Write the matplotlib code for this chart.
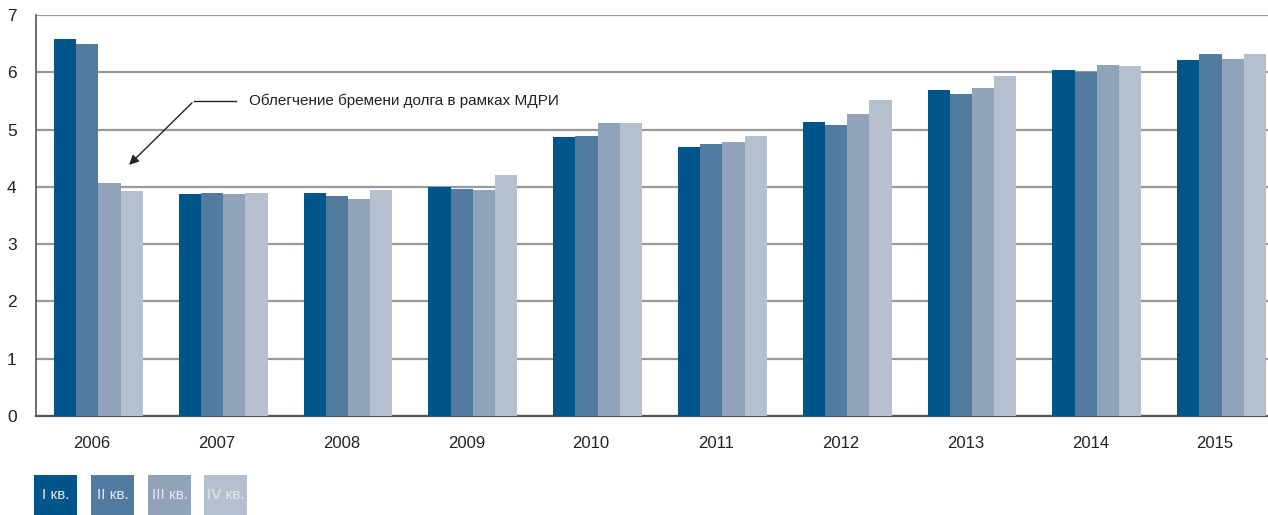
import matplotlib.pyplot as plt
import matplotlib.patches as mpatches
import numpy as np

plt.rcParams['font.family'] = ['Liberation Sans', 'DejaVu Sans']

years = ["2006", "2007", "2008", "2009", "2010", "2011", "2012", "2013", "2014", "2015"]
q1 = [6.58, 3.88, 3.89, 4.00, 4.87, 4.69, 5.13, 5.69, 6.04, 6.21]
q2 = [6.50, 3.90, 3.84, 3.96, 4.89, 4.75, 5.08, 5.62, 6.00, 6.32]
q3 = [4.07, 3.88, 3.79, 3.94, 5.11, 4.78, 5.27, 5.72, 6.13, 6.23]
q4 = [3.93, 3.90, 3.94, 4.21, 5.11, 4.89, 5.51, 5.93, 6.11, 6.32]
quarters = ["I кв.", "II кв.", "III кв.", "IV кв."]
note = "Облегчение бремени долга в рамках МДРИ"

colors = ['#00558b', '#537ba0', '#90a3ba', '#b5bfce']

fig = plt.figure(figsize=(12.68, 5.15), dpi=100)
# the plot area runs a little past the right edge of the picture
ax = fig.add_axes([36 / 1268, 0.192, 1248 / 1268, 0.779])

x = np.arange(len(years))
w = 0.178
series = [q1, q2, q3, q4]
for i in range(4):
    ax.bar(x + (i - 1.5) * w, series[i], width=w, color=colors[i], zorder=3)

ax.set_xlim(-0.5, len(years) - 0.5)
ax.set_ylim(0, 7)
ax.set_yticks(range(0, 8))
ax.yaxis.grid(True, color='#999999', linewidth=1.6, zorder=0)
ax.set_xticks(x - 0.052)
ax.set_xticklabels(years, fontsize=12, color='#222222')
ax.tick_params(axis='y', labelsize=12.5, labelcolor='#222222', length=0, pad=14)
ax.tick_params(axis='x', length=0, pad=14)
for s in ['top', 'right']:
    ax.spines[s].set_visible(False)
ax.spines['left'].set_color('#555555')
ax.spines['bottom'].set_color('#555555')
ax.spines['left'].set_linewidth(1.2)
ax.spines['bottom'].set_linewidth(1.6)

# annotation
ax.text(1.21, 5.5, note, fontsize=11, color='#222222', va='center', ha='left')
ax.plot([1.10, 0.766], [5.5, 5.5], color='#222222', linewidth=1, zorder=4)
ax.annotate('', xy=(0.23, 4.35), xytext=(0.766, 5.5),
            arrowprops=dict(arrowstyle='-|>', color='#222222', lw=1,
                            mutation_scale=14), zorder=4)

# legend boxes
box_x = [34, 91, 148, 204]
for i in range(4):
    x0 = box_x[i] / 1268
    rect = mpatches.Rectangle((x0, 0), 43 / 1268, 40 / 515, transform=fig.transFigure,
                              facecolor=colors[i], edgecolor='none')
    fig.patches.append(rect)
    fig.text(x0 + 21.5 / 1268, 20 / 515, quarters[i], fontsize=11, color='#e4e9f0',
             ha='center', va='center')

fig.savefig('out.png', dpi=100)
